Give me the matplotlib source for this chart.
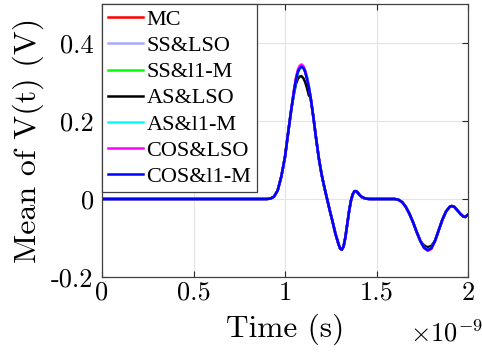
import numpy as np
import matplotlib.pyplot as plt

plt.rcParams['axes.unicode_minus'] = False
plt.rcParams['mathtext.fontset'] = 'cm'
plt.rcParams['axes.formatter.use_mathtext'] = True

# time in ns (axis shows x10^-9 s)
t_rise = [0.0, 0.90, 0.92, 0.94, 0.96, 0.98, 1.00, 1.02, 1.035]
v_rise = [0.0, 0.0, 0.001, 0.006, 0.022, 0.058, 0.108, 0.180, 0.232]

t_peak = [1.05, 1.06, 1.07, 1.08, 1.09, 1.10, 1.11, 1.12, 1.13]
peak = {
    'MC':        [0.280, 0.308, 0.327, 0.338, 0.342, 0.339, 0.328, 0.310, 0.287],
    'SS&LSO':    [0.280, 0.307, 0.326, 0.336, 0.340, 0.337, 0.327, 0.309, 0.287],
    'SS&l1-M':   [0.280, 0.307, 0.326, 0.337, 0.341, 0.338, 0.327, 0.310, 0.287],
    'AS&LSO':    [0.272, 0.295, 0.308, 0.314, 0.315, 0.310, 0.300, 0.285, 0.266],
    'AS&l1-M':   [0.277, 0.304, 0.323, 0.334, 0.338, 0.337, 0.330, 0.314, 0.293],
    'COS&LSO':   [0.282, 0.311, 0.331, 0.341, 0.345, 0.341, 0.330, 0.311, 0.288],
    'COS&l1-M':  [0.279, 0.306, 0.325, 0.335, 0.339, 0.336, 0.326, 0.308, 0.286],
}

t_mid = [1.14, 1.155, 1.17, 1.185, 1.20, 1.215, 1.23, 1.245, 1.26, 1.275,
         1.29, 1.30, 1.31, 1.32, 1.33, 1.34, 1.35, 1.36, 1.37, 1.38, 1.39,
         1.40, 1.41, 1.42, 1.44, 1.46, 1.60, 1.62, 1.64, 1.66, 1.68, 1.70,
         1.72, 1.74]
v_mid = [0.260, 0.210, 0.155, 0.104, 0.063, 0.030, 0.0, -0.030, -0.058, -0.088,
         -0.112, -0.126, -0.130, -0.122, -0.098, -0.065, -0.032, -0.005, 0.012, 0.020, 0.020,
         0.015, 0.009, 0.005, 0.001, 0.0, 0.0, -0.002, -0.008, -0.020, -0.038, -0.060,
         -0.085, -0.108]

t_trough = [1.76, 1.78, 1.80]
trough = {
    'MC':        [-0.124, -0.130, -0.125],
    'SS&LSO':    [-0.124, -0.130, -0.125],
    'SS&l1-M':   [-0.124, -0.130, -0.125],
    'AS&LSO':    [-0.119, -0.124, -0.120],
    'AS&l1-M':   [-0.124, -0.130, -0.125],
    'COS&LSO':   [-0.126, -0.133, -0.128],
    'COS&l1-M':  [-0.125, -0.131, -0.126],
}

t_tail = [1.82, 1.84, 1.86, 1.88, 1.90, 1.91, 1.925, 1.94, 1.96, 1.975, 1.985, 2.0]
v_tail = [-0.107, -0.080, -0.053, -0.032, -0.020, -0.018, -0.020, -0.028, -0.039, -0.045, -0.046, -0.040]

names = ['MC', 'SS&LSO', 'SS&l1-M', 'AS&LSO', 'AS&l1-M', 'COS&LSO', 'COS&l1-M']
colors = ['#ff0000', '#aaaaff', '#00ff00', '#000000', '#00ffff', '#ff00ff', '#0000ff']

xticks = [0, 0.5, 1, 1.5, 2]
xticklabels = ['0', '0.5', '1', '1.5', '2']
yticks = [-0.2, 0, 0.2, 0.4]
yticklabels = ['-0.2', '0', '0.2', '0.4']

fig = plt.figure(figsize=(4.82, 3.56), dpi=100)
ax = fig.add_axes([102/482, 1-277/356, 366/482, 273/356])

t_all = t_rise + t_peak + t_mid + t_trough + t_tail
for name, c in zip(names, colors):
    v = v_rise + peak[name] + v_mid + trough[name] + v_tail
    ax.plot(t_all, v, color=c, lw=1.8, label=name)

ax.set_xlim(0, 2)
ax.set_ylim(-0.2, 0.5)
ax.set_xticks(xticks)
ax.set_xticklabels(xticklabels, fontfamily='cmr10', fontsize=19)
ax.set_yticks(yticks)
ax.set_yticklabels(yticklabels, fontfamily='cmr10', fontsize=19)
ax.tick_params(direction='in', top=True, right=True, length=4, width=0.8, color='#262626')
ax.tick_params(axis='x', pad=3)
ax.tick_params(axis='y', pad=6)
ax.grid(True, color='#e3e3e3', lw=0.8)
ax.set_axisbelow(True)
for s in ax.spines.values():
    s.set_color('#404040')
    s.set_linewidth(0.9)

ax.set_xlabel('Time (s)', fontfamily='cmr10', fontsize=22.5, labelpad=6)
ax.set_ylabel('Mean of V(t) (V)', fontfamily='cmr10', fontsize=23, labelpad=5)
fig.text(410/482, 1-341/356, r'$\times 10^{-9}$', fontsize=19, ha='left', va='baseline')

leg = ax.legend(loc='upper left', bbox_to_anchor=(0, 1), borderaxespad=0,
                fancybox=False, framealpha=1, edgecolor='#404040',
                prop={'family': 'Liberation Serif', 'size': 16},
                labelspacing=0.25, borderpad=0.25, handlelength=1.6, handletextpad=0.15)
leg.get_frame().set_linewidth(0.9)

fig.savefig('out.png', dpi=100)
